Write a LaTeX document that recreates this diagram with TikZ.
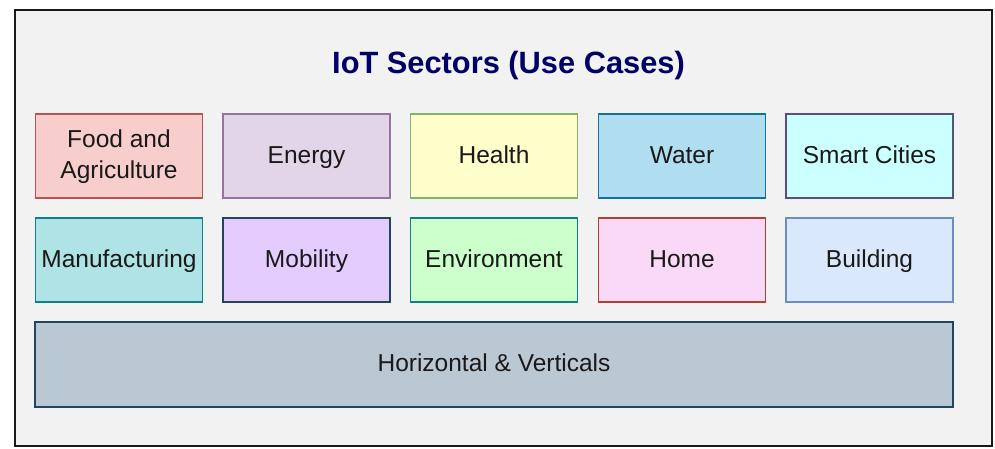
\documentclass[tikz,border=0pt]{standalone}
\usepackage{fontspec}
\setmainfont{Liberation Sans}
\begin{document}
\begin{tikzpicture}[x=1pt,y=-1pt,
  cellbase/.style={draw, line width=1.6pt, rectangle, minimum width=167pt, minimum height=84pt, inner sep=0pt, align=center, font=\fontsize{24.5}{31.3}\selectfont, text=black!90},
  cell/.style={cellbase, text height=17.5pt, text depth=2.9pt},
  anchor=center]
\definecolor{bgc}{HTML}{F2F2F2}
\definecolor{titlec}{HTML}{000066}
\definecolor{f1}{HTML}{F8CECC}\definecolor{s1}{HTML}{B85450}
\definecolor{f2}{HTML}{E1D5E7}\definecolor{s2}{HTML}{9673A6}
\definecolor{f3}{HTML}{FFFFCC}\definecolor{s3}{HTML}{82B366}
\definecolor{f4}{HTML}{B1DDF0}\definecolor{s4}{HTML}{10739E}
\definecolor{f5}{HTML}{CCFFFF}\definecolor{s5}{HTML}{56517E}
\definecolor{f6}{HTML}{B0E3E6}\definecolor{s6}{HTML}{0E8088}
\definecolor{f7}{HTML}{E5CCFF}\definecolor{s7}{HTML}{23445D}
\definecolor{f8}{HTML}{CCFFCC}\definecolor{s8}{HTML}{0E8088}
\definecolor{f9}{HTML}{FAD9F8}\definecolor{s9}{HTML}{AE4132}
\definecolor{f10}{HTML}{DAE8FC}\definecolor{s10}{HTML}{6C8EBF}
\definecolor{f11}{HTML}{BAC8D3}\definecolor{s11}{HTML}{23445D}
\useasboundingbox (0,0) rectangle (995,448);
\fill[white] (0,0) rectangle (995,448);
\draw[fill=bgc, draw=black!90, line width=2pt] (15,10) rectangle (992,446);
\node[font=\fontsize{30.8}{36}\selectfont\bfseries, text=titlec, anchor=base] (title) at (508.5,73.3) {IoT Sectors (Use Cases)};
\node[cellbase, fill=f1, draw=s1] (food) at (119,156) {\rule{0pt}{19.7pt}Food and\\Agriculture};
\node[cell, fill=f2, draw=s2] (energy) at (306.5,156) {Energy};
\node[cell, fill=f3, draw=s3] (health) at (494,156) {Health};
\node[cell, fill=f4, draw=s4] (water) at (682,156) {Water};
\node[cell, fill=f5, draw=s5] (smart) at (869.5,156) {Smart Cities};
\node[cell, fill=f6, draw=s6] (manu) at (119,260) {Manufacturing};
\node[cell, fill=f7, draw=s7] (mobility) at (306.5,260) {Mobility};
\node[cell, fill=f8, draw=s8] (env) at (494,260) {Environment};
\node[cell, fill=f9, draw=s9] (home) at (682,260) {Home};
\node[cell, fill=f10, draw=s10] (building) at (869.5,260) {Building};
\node[cell, fill=f11, draw=s11, minimum width=918pt, minimum height=85pt] (hv) at (494,364.5) {Horizontal \& Verticals};
\end{tikzpicture}
\end{document}
